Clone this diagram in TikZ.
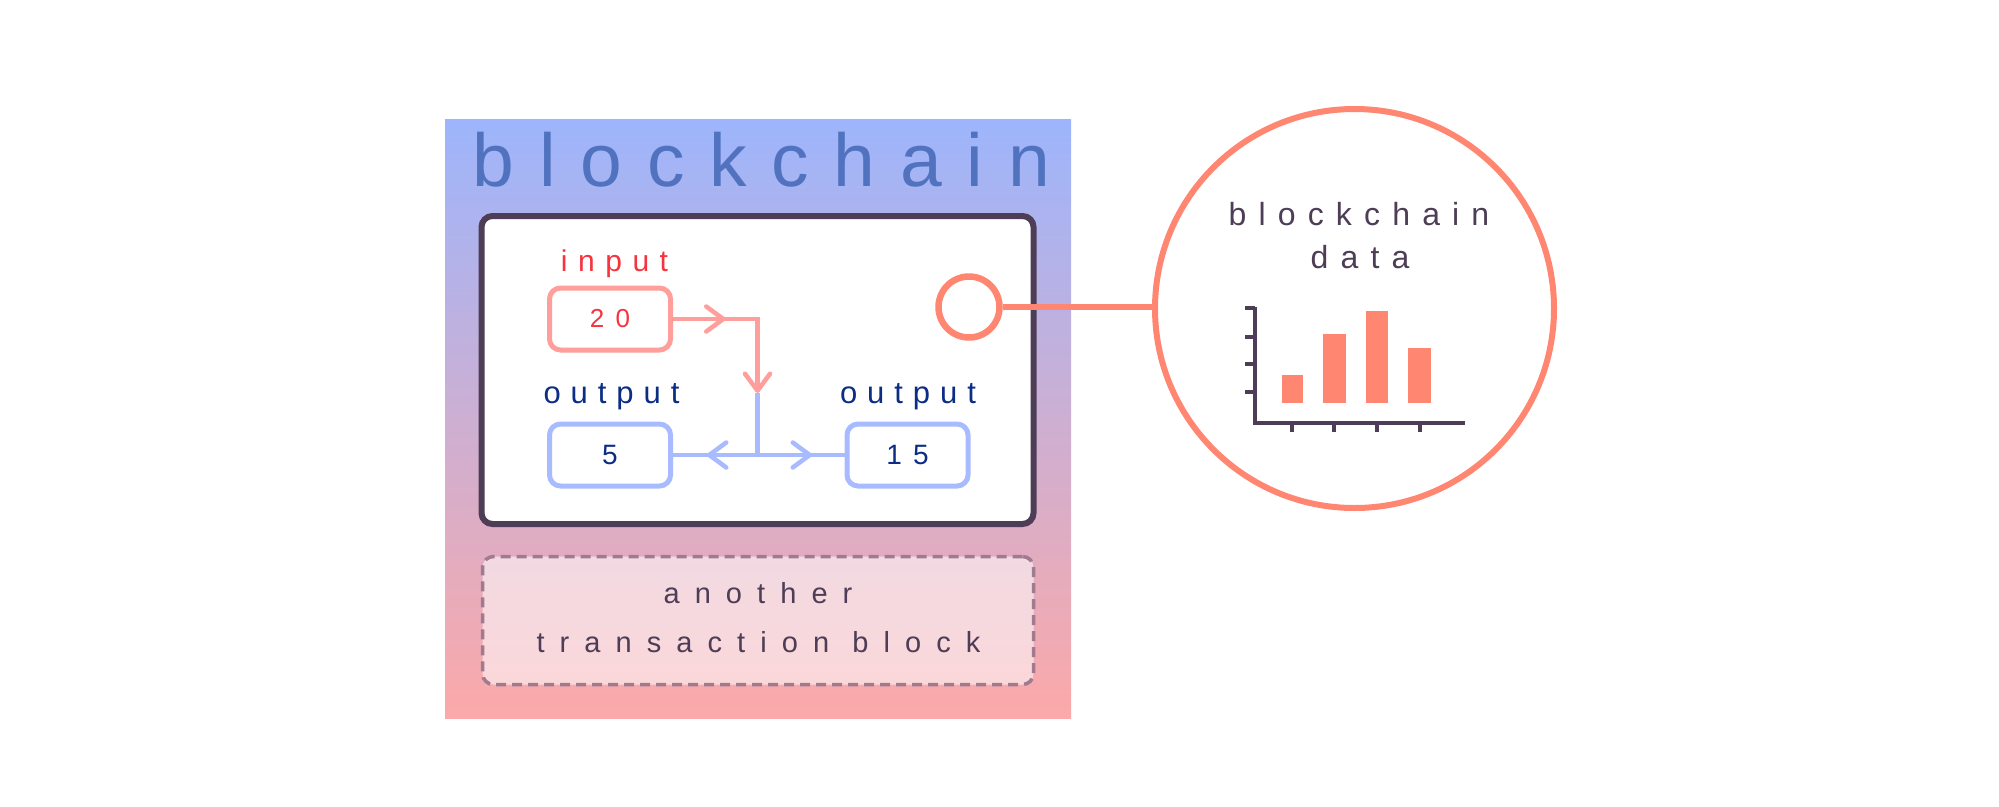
\documentclass[tikz,border=0pt]{standalone}
\usepackage{fontspec}
\setmainfont{Liberation Sans}
\usetikzlibrary{arrows.meta,decorations.markings}

\definecolor{chainblue}{HTML}{5173BF}
\definecolor{skyblue}{HTML}{9DB5FC}
\definecolor{rosepink}{HTML}{FCA9A9}
\definecolor{plum}{HTML}{4E3D56}
\definecolor{inred}{HTML}{FF9E9A}
\definecolor{intext}{HTML}{F5343F}
\definecolor{outblue}{HTML}{A8BBFF}
\definecolor{outtext}{HTML}{0C2D84}
\definecolor{coral}{HTML}{FF8670}
\definecolor{dashgrey}{HTML}{A07A8E}

\newcommand{\spaced}[2]{\fontsize{#1}{#1}\selectfont\addfontfeature{LetterSpace=#2}}

\tikzset{
  inbox/.style={draw=inred, line width=5pt, rounded corners=11pt, minimum width=121pt, minimum height=62pt, text=intext, font=\spaced{26}{44}},
  outbox/.style={draw=outblue, line width=5pt, rounded corners=11pt, minimum width=121pt, minimum height=62pt, text=outtext, font=\spaced{28}{40}},
  redline/.style={color=inred, line width=4.5pt},
  blueline/.style={color=outblue, line width=4.5pt},
  barb/.style={postaction=decorate, decoration={markings, mark=at position #1 with {\arrow{Straight Barb[length=17pt,width=25pt,round]}}}},
  axis/.style={draw=plum, line width=4pt},
}

\begin{document}
\begin{tikzpicture}[x=1pt,y=-1pt]
\useasboundingbox (0,0) rectangle (1999,806);
%\draw[help lines] (0,0) grid (1999,806);
\shade[top color=skyblue, bottom color=rosepink] (445,119) rectangle (1071,718);
\node (title) [anchor=base, text=chainblue, font=\spaced{75}{33}] at (761.5,186) {blockchain};

\node (tx) [draw=plum, line width=6pt, rounded corners=11pt, fill=white, minimum width=552pt, minimum height=308pt] at (757.5,370) {};
\node (inlabel) [anchor=base, text=intext, font=\spaced{30}{35}] at (614.5,271) {input};
\node (in20) [inbox] at (610,319) {20};
\node (outlabelA) [anchor=base, text=outtext, font=\spaced{31}{32}] at (611.5,403) {output};
\node (outlabelB) [anchor=base, text=outtext, font=\spaced{31}{32}] at (908,403) {output};
\node (out5) [outbox] at (610,455) {5};
\node (out15) [outbox] at (907.5,455) {15};

\coordinate (cnr) at (in20.east -| tx);
\coordinate (meet) at (757.5,393);
\coordinate (fork) at (out5.east -| tx);
\draw[redline, barb=52.5pt, -{Straight Barb[length=17pt,width=25pt,round]}] (in20.east) -- (cnr) -- (meet);
\draw[blueline, barb=112.5pt] (meet) -- (fork) -- (out5.east);
\draw[blueline, barb=54.5pt] (fork) -- (out15.west);

\node (other) [draw=dashgrey, line width=3.5pt, dash pattern=on 10pt off 6pt, rounded corners=11pt, fill=white, fill opacity=0.55, minimum width=551pt, minimum height=128pt] at (758,620.5) {};
\node (otherA) [anchor=base, text=plum, font=\spaced{29}{52}] at (758,603) {another};
\node (otherB) [anchor=base, text=plum, font=\spaced{29}{52}] at (758.5,652) {transaction block};

\node (dot) [circle, draw=coral, line width=6.5pt, minimum size=61pt, inner sep=0pt] at (969,307) {};
\node (data) [circle, draw=coral, line width=6pt, minimum size=399pt, inner sep=0pt] at (1354.5,308.5) {};
\draw[coral, line width=6pt] (dot.east) -- (dot.east -| data.west);

\node (dataA) [anchor=base, text=plum, font=\spaced{32}{38}] at (1359,225) {blockchain};
\node (dataB) [anchor=base, text=plum, font=\spaced{32}{38}] at (1360,268) {data};

% bar chart
\draw[axis] (1255,307) -- (1255,423) -- (1465,423);
\draw[axis] (1245,308) -- (1255,308) (1245,337) -- (1255,337) (1245,364) -- (1255,364) (1245,392) -- (1255,392);
\draw[axis] (1292,423) -- (1292,432) (1334,423) -- (1334,432) (1377,423) -- (1377,432) (1420,423) -- (1420,432);
\fill[coral] (1282,403) rectangle (1303,375);
\fill[coral] (1323,403) rectangle (1346,334);
\fill[coral] (1366,403) rectangle (1388,311);
\fill[coral] (1408,403) rectangle (1431,348);
\end{tikzpicture}
\end{document}
